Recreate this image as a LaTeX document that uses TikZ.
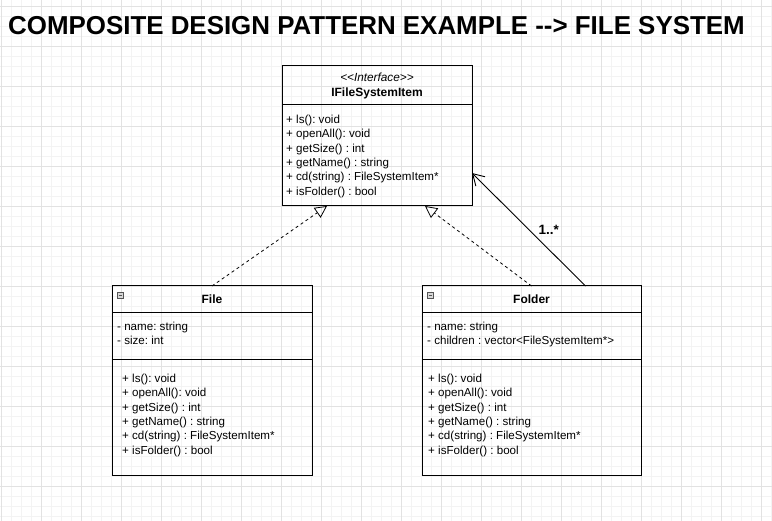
\documentclass[tikz,border=0pt]{standalone}
\usepackage{fontspec}
\setmainfont{Liberation Sans}
\usepackage{xcolor}
\usetikzlibrary{arrows.meta, positioning}
\definecolor{gridmajor}{HTML}{E2E2E2}
\definecolor{gridminor}{HTML}{F3F3F3}
\definecolor{iconfill}{HTML}{D8D8D8}
\definecolor{icondraw}{HTML}{555555}
\frenchspacing

\begin{document}
\begin{tikzpicture}[
  x=1pt, y=-1pt,
  classhead/.style={rectangle, draw=black, line width=1pt, inner sep=0pt, outer sep=0pt,
    minimum width=#1, align=center, font=\fontsize{12}{15}\selectfont},
  compart/.style={rectangle, draw=black, line width=1pt, inner sep=0pt, outer sep=0pt,
    minimum width=#1},
  members/.style={inner sep=0pt, anchor=north west, align=left,
    font=\fontsize{11.6}{14.3}\selectfont},
  icon/.style={rectangle, draw=icondraw, fill=iconfill, line width=0.6pt, inner sep=0pt,
    minimum size=6pt, anchor=north west,
    path picture={\draw[icondraw, line width=0.8pt] ([xshift=1.3pt]path picture bounding box.west)
      -- ([xshift=-1.3pt]path picture bounding box.east);}},
  realize/.style={-{Triangle[open, length=12pt, width=12pt]}, line width=0.8pt,
    dash pattern=on 3pt off 3pt},
  assoc/.style={-{Straight Barb[length=11pt, width=13pt]}, line width=0.9pt},
  node distance=0pt,
]
  \useasboundingbox (0,0) rectangle (772,521);

  % background grid
  \foreach \gx in {1,11,...,771} \draw[gridminor, line width=0.8pt] (\gx,0) -- (\gx,521);
  \foreach \gy in {6,16,...,516} \draw[gridminor, line width=0.8pt] (0,\gy) -- (772,\gy);
  \foreach \gx in {1,41,...,761} \draw[gridmajor, line width=0.8pt] (\gx,0) -- (\gx,521);
  \foreach \gy in {6,46,...,486} \draw[gridmajor, line width=0.8pt] (0,\gy) -- (772,\gy);

  \node[anchor=base west, inner sep=0pt, font=\fontsize{25.9}{30}\selectfont\bfseries] (title) at (8,35)
    {COMPOSITE DESIGN PATTERN EXAMPLE -{}-> FILE SYSTEM};

  % interface
  \node[classhead=190pt, minimum height=39pt] (itemhead) at (377,85.5)
    {{\fontsize{11.8}{12}\selectfont\itshape <{}<Interface>{}>}\\ \textbf{IFileSystemItem}};
  \node[compart=190pt, minimum height=101pt, below=of itemhead] (itemops) {};
  \node[members, below right=10pt and 4pt of itemops.north west] (itemopstext)
    {+ ls(): void\\ + openAll(): void\\ + getSize() : int\\ + getName() : string\\
     + cd(string) : FileSystemItem*\\ + isFolder() : bool};

  % file
  \node[classhead=200pt, minimum height=27pt] (filehead) at (212,299.5) {\textbf{File}};
  \node[compart=200pt, minimum height=47pt, below=of filehead] (fileattr) {};
  \node[compart=200pt, minimum height=116pt, below=of fileattr] (fileops) {};
  \node[icon, below right=6pt and 5pt of filehead.north west] (fileicon) {};
  \node[members, below right=9pt and 5pt of fileattr.north west] (fileattrtext)
    {- name: string\\ - size: int};
  \node[members, below right=14pt and 10pt of fileops.north west] (fileopstext)
    {+ ls(): void\\ + openAll(): void\\ + getSize() : int\\ + getName() : string\\
     + cd(string) : FileSystemItem*\\ + isFolder() : bool};

  % folder
  \node[classhead=219pt, minimum height=27pt] (folderhead) at (531.5,299.5) {\textbf{Folder}};
  \node[compart=219pt, minimum height=47pt, below=of folderhead] (folderattr) {};
  \node[compart=219pt, minimum height=116pt, below=of folderattr] (folderops) {};
  \node[icon, below right=6pt and 5pt of folderhead.north west] (foldericon) {};
  \node[members, below right=9pt and 5pt of folderattr.north west] (folderattrtext)
    {- name: string\\ - children : vector<FileSystemItem*>};
  \node[members, below right=14pt and 6pt of folderops.north west] (folderopstext)
    {+ ls(): void\\ + openAll(): void\\ + getSize() : int\\ + getName() : string\\
     + cd(string) : FileSystemItem*\\ + isFolder() : bool};

  \draw[realize] (filehead.north) -- ([xshift=-50pt]itemops.south);
  \draw[realize] (folderhead.north) -- ([xshift=48pt]itemops.south);
  \draw[assoc] ([xshift=54pt]folderhead.north) -- ([yshift=-17.5pt]itemops.east)
    node[midway, right=6pt, font=\fontsize{13.5}{15}\selectfont\bfseries] (mult) {1..*};
\end{tikzpicture}
\end{document}
